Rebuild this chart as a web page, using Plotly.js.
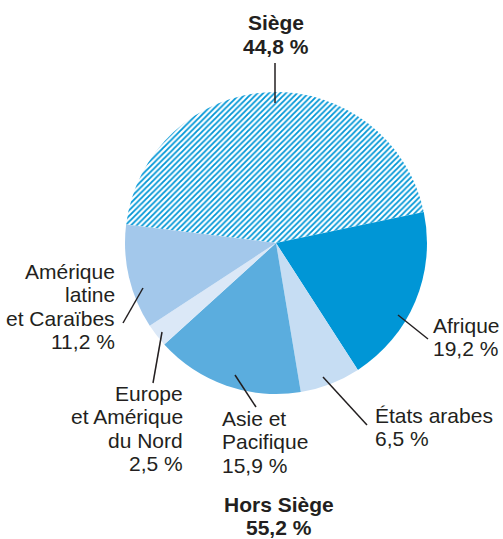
<!DOCTYPE html>
<html>
<head>
<meta charset="utf-8">
<script src="https://cdn.plot.ly/plotly-3.0.1.min.js"></script>
<style>
  html, body { margin: 0; padding: 0; background: #ffffff; }
  #chart { width: 503px; height: 539px; }
</style>
</head>
<body>
<div id="chart"></div>
<script>
// ---- Data ----
const categories = ['Siège', 'Afrique', 'États arabes', 'Asie et Pacifique', 'Europe et Amérique du Nord', 'Amérique latine et Caraïbes'];
const values = [44.8, 19.2, 6.5, 15.9, 2.5, 11.2];
const labelLines = [['Siège'], ['Afrique'], ['États arabes'], ['Asie et', 'Pacifique'], ['Europe', 'et Amérique', 'du Nord'], ['Amérique', 'latine', 'et Caraïbes']];
const outsideLabel = 'Hors Siège';
const outsideShare = 55.2;

// ---- Styles ----
const colors = ['#0096d6', '#0096d6', '#c6ddf3', '#5badde', '#dbe8f7', '#a3c8eb'];
const patternShapes = ['/', '', '', '', '', ''];
const textColor = '#231f20';
const W = 503, H = 539;
const px = x => x / W;
const py = y => 1 - y / H;
const fmt = v => v.toFixed(1).replace('.', ',') + ' %';

const trace = {
  type: 'pie',
  labels: categories,
  values: values,
  sort: false,
  direction: 'clockwise',
  rotation: -83,
  textinfo: 'none',
  hoverinfo: 'none',
  showlegend: false,
  marker: {
    colors: colors,
    line: { width: 0 },
    pattern: { shape: patternShapes, fgcolor: '#0096d6', bgcolor: '#ffffff', size: 4, solidity: 0.45 }
  },
  domain: { x: [px(125), px(427)], y: [py(394), py(92)] }
};

// label placement: [x, align, first line center y]
const placement = [
  [276, 'center', 23],
  [431, 'left', 325],
  [373, 'left', 415],
  [220, 'left', 418],
  [185, 'right', 393],
  [117, 'right', 271]
];
const lineStep = 23.5;
const annotations = [];
categories.forEach((c, i) => {
  const lines = labelLines[i].concat([fmt(values[i])]);
  const [x, align, y0] = placement[i];
  const bold = i === 0;
  lines.forEach((t, k) => {
    annotations.push({
      xref: 'paper', yref: 'paper',
      x: px(x), y: py(y0 + k * lineStep),
      xanchor: align, yanchor: 'middle',
      text: bold ? '<b>' + t + '</b>' : t,
      showarrow: false,
      font: { family: 'Liberation Sans, Arial, sans-serif', size: 21, color: textColor }
    });
  });
});
[outsideLabel, fmt(outsideShare)].forEach((t, k) => {
  annotations.push({
    xref: 'paper', yref: 'paper',
    x: px(279), y: py(504 + k * lineStep),
    xanchor: 'center', yanchor: 'middle',
    text: '<b>' + t + '</b>', showarrow: false,
    font: { family: 'Liberation Sans, Arial, sans-serif', size: 21, color: textColor }
  });
});

// leader lines
const leaders = [
  [275, 63, 275, 103],
  [398, 315, 428, 339],
  [323, 377, 367, 425],
  [235, 375, 256, 407],
  [162, 332, 153, 383],
  [143, 288, 123, 323]
];
const shapes = leaders.map(([x0, y0, x1, y1]) => ({
  type: 'line', xref: 'paper', yref: 'paper',
  x0: px(x0), y0: py(y0), x1: px(x1), y1: py(y1),
  line: { color: textColor, width: 1.5 }
}));

const layout = {
  width: W, height: H,
  margin: { l: 0, r: 0, t: 0, b: 0 },
  paper_bgcolor: '#ffffff',
  plot_bgcolor: '#ffffff',
  showlegend: false,
  annotations: annotations,
  shapes: shapes
};

Plotly.newPlot('chart', [trace], layout, { displayModeBar: false, staticPlot: true });
</script>
</body>
</html>
